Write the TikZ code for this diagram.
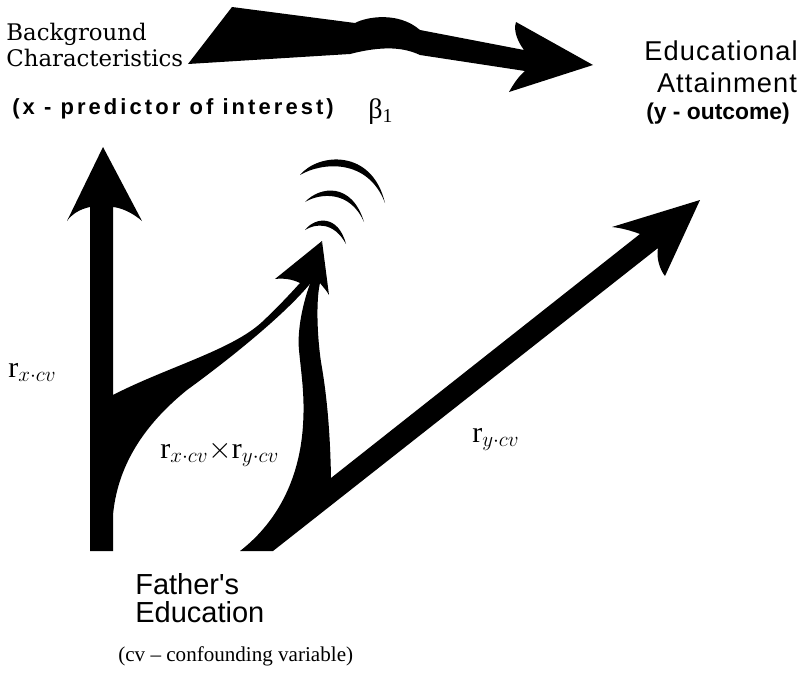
\documentclass[tikz,border=0pt]{standalone}
\usepackage{fontspec}
\setmainfont{Liberation Serif}
\newfontfamily\bgserif{DejaVu Serif}
\newfontfamily\helv{Liberation Sans}
\newfontfamily\helvwide[LetterSpace=4]{Liberation Sans}
\newfontfamily\helvwider[LetterSpace=14]{Liberation Sans}

\begin{document}
\begin{tikzpicture}[x=0.02cm, y=-0.02cm,
  blob/.style={fill=black},
  lbl/.style={inner sep=0pt, anchor=base west},
  mid/.style={inner sep=0pt, anchor=base},
  serifbig/.style={font=\bgserif\fontsize{13}{15}\selectfont},
  sansbig/.style={font=\helv\fontsize{16.5}{19}\selectfont},
  sanswide/.style={font=\helvwide\fontsize{15.5}{18}\selectfont},
  sansnote/.style={font=\helvwider\bfseries\fontsize{12.5}{15}\selectfont},
  corr/.style={font=\fontsize{17}{20}\selectfont}]
\useasboundingbox (0,0) rectangle (805,700);

% Labels
\node[lbl, serifbig] (bg1) at (6,40) {Background};
\node[lbl, serifbig] (bg2) at (6,66) {Characteristics};
\node[lbl, sansnote] (xnote) at (12,114) {(x - predictor of interest)};
\node[lbl, font=\fontsize{16}{18}\selectfont] (beta) at (368,118) {β\textsubscript{1}};
\node[mid, sanswide] (ea1) at (721,60) {Educational};
\node[mid, sanswide] (ea2) at (727,92) {Attainment};
\node[mid, font=\helv\bfseries\fontsize{13}{15}\selectfont] (ynote) at (718,119) {(y - outcome)};
\node[lbl, sansbig] (fe1) at (135,594) {Father's};
\node[lbl, sansbig] (fe2) at (135,622) {Education};
\node[lbl, font=\fontsize{12}{14}\selectfont] (cvnote) at (118,661) {(cv -- confounding variable)};
\node[lbl, corr] (rx) at (8,377) {$\mathrm{r}_{x{\cdot}cv}$};
\node[lbl, corr] (rxy) at (160,458) {$\mathrm{r}_{x{\cdot}cv}{\times}\mathrm{r}_{y{\cdot}cv}$};
\node[lbl, corr] (ry) at (472,442) {$\mathrm{r}_{y{\cdot}cv}$};

% Arrow ends
\coordinate (bgTail) at (188,64);
\coordinate (eaTip) at (593,65);
\coordinate (rxTip) at (103,147);
\coordinate (midTip) at (322,241);
\coordinate (ryTip) at (700,200);

% Beta arrow: Background -> Educational
\fill[blob] (bgTail) -- (232,7) -- (355,23) .. controls (366,17) and (398,11) .. (420,30)
  -- (524,50) .. controls (518,42) and (513,31) .. (516,22) -- (eaTip) -- (509,92)
  .. controls (514,83) and (519,76) .. (525,71) -- (420,55)
  .. controls (405,48) and (385,45) .. (350,54) -- cycle;

% r_x.cv arrow with branch to the middle head
\fill[blob] (90,551) -- (90,207) .. controls (80,209) and (72,214) .. (67,221) -- (rxTip)
  -- (142,221) .. controls (134,214) and (123,208) .. (113,207) -- (113,395)
  .. controls (165,368) and (232,350) .. (262,322) .. controls (278,307) and (290,294) .. (300,283)
  .. controls (292,279) and (283,278) .. (275,279) -- (midTip) -- (313,280)
  .. controls (290,310) and (235,355) .. (187,390) .. controls (150,420) and (118,460) .. (113,515)
  -- (113,551) -- cycle;

% Middle stem and r_y.cv arrow
\fill[blob] (240,551) -- (273,551) -- (658,248) .. controls (656,258) and (660,270) .. (665,276)
  -- (ryTip) -- (612,227) .. controls (622,228) and (632,231) .. (640,234) -- (331,478)
  .. controls (330,420) and (325,385) .. (321,362) .. controls (317,335) and (316,300) .. (320,283)
  .. controls (323,287) and (327,291) .. (329,295) -- (midTip) -- (311,281)
  .. controls (303,302) and (297,330) .. (299,350) .. controls (301,372) and (305,395) .. (303,425)
  .. controls (300,475) and (280,520) .. (240,551) -- cycle;

% Waves over the middle head
\fill[blob] (300,175) .. controls (318,153) and (372,148) .. (385,203) .. controls (368,158) and (322,162) .. (300,175) -- cycle;
\fill[blob] (305,202) .. controls (320,186) and (352,182) .. (364,222) .. controls (350,190) and (320,193) .. (305,202) -- cycle;
\fill[blob] (305,230) .. controls (315,217) and (338,214) .. (346,244) .. controls (334,222) and (316,223) .. (305,230) -- cycle;
\end{tikzpicture}
\end{document}
